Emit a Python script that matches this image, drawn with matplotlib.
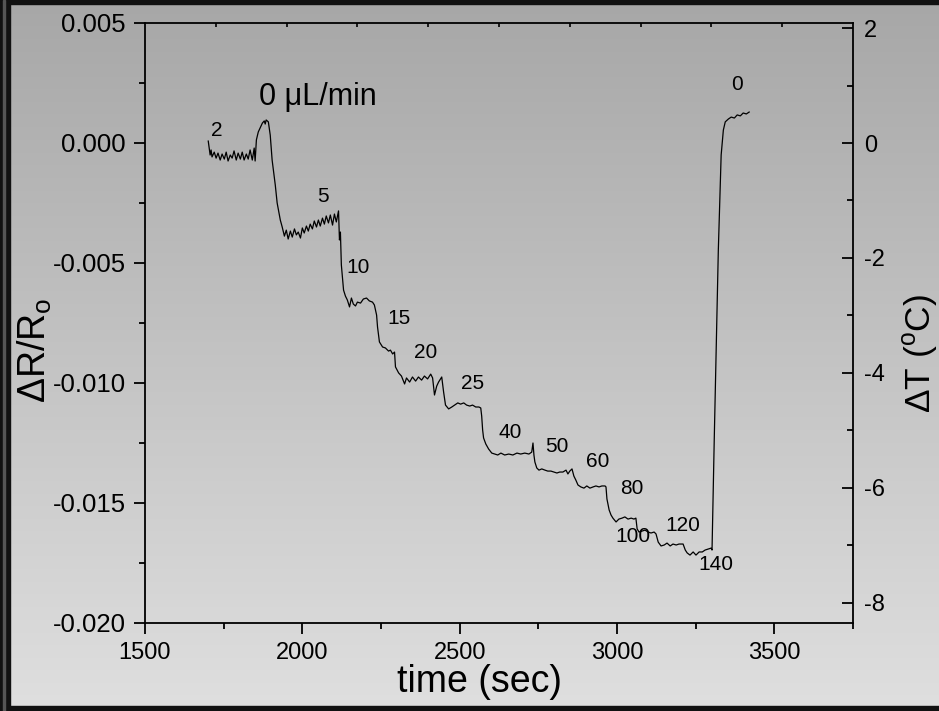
import numpy as np
import matplotlib
matplotlib.use("Agg")
import matplotlib.pyplot as plt
from matplotlib.patches import Rectangle

plt.rcParams['font.family'] = ['Liberation Sans', 'DejaVu Sans']
plt.rcParams['mathtext.fontset'] = 'custom'
plt.rcParams['mathtext.rm'] = 'Liberation Sans'
plt.rcParams['mathtext.it'] = 'Liberation Sans'
plt.rcParams['axes.unicode_minus'] = False

# ---------------- data ----------------
time_s = [1701, 1704, 1707, 1710, 1713, 1720, 1726, 1732, 1739, 1745, 1752, 1758, 1764, 1771,
          1777, 1783, 1790, 1796, 1803, 1809, 1815, 1822, 1828, 1834, 1841, 1847, 1850, 1854,
          1860, 1866, 1873, 1879, 1882, 1885, 1892, 1898, 1904, 1914, 1920, 1930, 1936, 1943,
          1949, 1955, 1962, 1968, 1975, 1981, 1987, 1994, 2000, 2006, 2013, 2019, 2025, 2032,
          2038, 2045, 2051, 2057, 2064, 2070, 2076, 2083, 2089, 2096, 2102, 2108, 2115, 2118,
          2121, 2124, 2131, 2137, 2143, 2150, 2156, 2162, 2169, 2175, 2185, 2194, 2204, 2213,
          2223, 2229, 2236, 2239, 2245, 2255, 2264, 2274, 2280, 2287, 2293, 2296, 2306, 2315,
          2325, 2331, 2341, 2350, 2360, 2369, 2379, 2388, 2398, 2408, 2414, 2420, 2427, 2433,
          2443, 2449, 2455, 2465, 2475, 2484, 2494, 2503, 2513, 2522, 2532, 2541, 2551, 2561,
          2567, 2570, 2573, 2576, 2583, 2592, 2602, 2611, 2621, 2631, 2643, 2656, 2669, 2682,
          2694, 2707, 2720, 2729, 2733, 2736, 2739, 2745, 2752, 2761, 2771, 2780, 2790, 2799,
          2809, 2818, 2828, 2838, 2844, 2850, 2857, 2863, 2869, 2876, 2885, 2895, 2904, 2914,
          2924, 2933, 2943, 2952, 2962, 2965, 2968, 2975, 2981, 2987, 2997, 3006, 3016, 3025,
          3035, 3045, 3054, 3060, 3064, 3070, 3080, 3089, 3099, 3108, 3118, 3124, 3131, 3140,
          3150, 3159, 3169, 3178, 3188, 3197, 3210, 3217, 3223, 3232, 3242, 3251, 3261, 3271,
          3280, 3290, 3299, 3302, 3309, 3322, 3331, 3338, 3344, 3354, 3363, 3373, 3382, 3392,
          3401, 3411, 3420]

dR_R0 = [0.00008, -0.00021, -0.00050, -0.00029, -0.00058, -0.00038, -0.00063, -0.00042,
         -0.00071, -0.00046, -0.00067, -0.00038, -0.00075, -0.00050, -0.00063, -0.00033,
         -0.00071, -0.00042, -0.00067, -0.00038, -0.00071, -0.00046, -0.00067, -0.00029,
         -0.00071, -0.00021, -0.00075, 0.00013, 0.00046, 0.00063, 0.00083, 0.00092, 0.00079,
         0.00096, 0.00088, 0.00033, -0.00071, -0.00175, -0.00250, -0.00321, -0.00350,
         -0.00388, -0.00363, -0.00400, -0.00367, -0.00392, -0.00358, -0.00383, -0.00371,
         -0.00396, -0.00354, -0.00375, -0.00346, -0.00367, -0.00338, -0.00358, -0.00325,
         -0.00350, -0.00321, -0.00346, -0.00313, -0.00338, -0.00304, -0.00333, -0.00300,
         -0.00342, -0.00296, -0.00329, -0.00283, -0.00404, -0.00371, -0.00508, -0.00613,
         -0.00638, -0.00654, -0.00683, -0.00646, -0.00671, -0.00679, -0.00663, -0.00667,
         -0.00650, -0.00646, -0.00658, -0.00663, -0.00675, -0.00717, -0.00767, -0.00829,
         -0.00850, -0.00854, -0.00867, -0.00863, -0.00879, -0.00871, -0.00933, -0.00958,
         -0.00971, -0.01004, -0.00979, -0.00996, -0.00975, -0.00992, -0.00975, -0.00988,
         -0.00971, -0.00983, -0.00963, -0.00979, -0.01050, -0.01013, -0.00996, -0.00975,
         -0.01038, -0.01092, -0.01108, -0.01100, -0.01092, -0.01083, -0.01088, -0.01083,
         -0.01092, -0.01096, -0.01092, -0.01100, -0.01100, -0.01104, -0.01138, -0.01196,
         -0.01229, -0.01254, -0.01275, -0.01292, -0.01296, -0.01300, -0.01292, -0.01300,
         -0.01296, -0.01300, -0.01292, -0.01296, -0.01292, -0.01296, -0.01288, -0.01250,
         -0.01300, -0.01329, -0.01354, -0.01363, -0.01358, -0.01363, -0.01367, -0.01367,
         -0.01371, -0.01375, -0.01371, -0.01371, -0.01363, -0.01379, -0.01367, -0.01358,
         -0.01388, -0.01404, -0.01425, -0.01433, -0.01438, -0.01429, -0.01438, -0.01433,
         -0.01429, -0.01433, -0.01429, -0.01429, -0.01433, -0.01483, -0.01529, -0.01550,
         -0.01563, -0.01579, -0.01567, -0.01563, -0.01558, -0.01567, -0.01563, -0.01567,
         -0.01563, -0.01608, -0.01621, -0.01617, -0.01613, -0.01621, -0.01625, -0.01621,
         -0.01629, -0.01663, -0.01679, -0.01675, -0.01667, -0.01679, -0.01671, -0.01675,
         -0.01671, -0.01671, -0.01696, -0.01708, -0.01717, -0.01704, -0.01717, -0.01704,
         -0.01704, -0.01696, -0.01692, -0.01688, -0.01696, -0.01238, -0.00446, -0.00050,
         0.00054, 0.00088, 0.00100, 0.00108, 0.00104, 0.00117, 0.00113, 0.00125, 0.00121,
         0.00129]

flow_labels = ["2", "5", "10", "15", "20", "25", "40", "50", "60", "80", "100", "120", "140", "0"]
label_t = [1729, 2067, 2178, 2306, 2392, 2541, 2659, 2809, 2940, 3048, 3051, 3210, 3315, 3382]
label_v = [0.00054, -0.00221, -0.00517, -0.00733, -0.00871, -0.01004, -0.01208, -0.01263,
           -0.01329, -0.01438, -0.01638, -0.01592, -0.01758, 0.00242]

x_ticks = [1500, 2000, 2500, 3000, 3500]
y_ticks = [0.005, 0.000, -0.005, -0.010, -0.015, -0.020]
y_tick_labels = ["0.005", "0.000", "-0.005", "-0.010", "-0.015", "-0.020"]
t_ticks = [2, 0, -2, -4, -6, -8]

# ---------------- figure ----------------
W, H = 939, 711
fig = plt.figure(figsize=(W / 100, H / 100), dpi=100)

# gradient background
bg = fig.add_axes([0, 0, 1, 1], zorder=-10)
grad = np.linspace(0, 1, 256).reshape(-1, 1)
top_c = np.array([0.655, 0.655, 0.655])
bot_c = np.array([0.875, 0.875, 0.875])
img = top_c[None, None, :] * (1 - grad[:, :, None]) + bot_c[None, None, :] * grad[:, :, None]
bg.imshow(img, aspect='auto', extent=[0, 1, 0, 1], origin='upper')
bg.set_xlim(0, 1); bg.set_ylim(0, 1)
bg.axis('off')
# dark frame
bg.add_patch(Rectangle((0, 0), 10 / W, 1, color='#111111', zorder=5))
bg.add_patch(Rectangle((0, 1 - 4 / H), 1, 4 / H, color='#111111', zorder=5))
bg.add_patch(Rectangle((0, 0), 1, 5 / H, color='#111111', zorder=5))
bg.add_patch(Rectangle((3 / W, 0), 1.5 / W, 1, color='#555555', zorder=6))

left, right, top, bottom = 145 / W, 853 / W, 1 - 23 / H, 1 - 623 / H
ax = fig.add_axes([left, bottom, right - left, top - bottom])
ax.patch.set_alpha(0)

ax.plot(time_s, dR_R0, color='black', lw=0.9)

ax.set_xlim(1500, 3750)
ax.set_ylim(-0.020, 0.005)
ax.set_xticks(x_ticks)
ax.set_xticks(np.arange(1750, 3751, 500), minor=True)
ax.set_yticks(y_ticks)
ax.set_yticklabels(y_tick_labels)
ax.set_yticks(np.arange(-0.0175, 0.005, 0.005), minor=True)

for s in ax.spines.values():
    s.set_linewidth(1.3)
ax.spines['right'].set_visible(False)

ax.tick_params(axis='both', which='major', direction='out', length=8, width=1.3, pad=6)
ax.tick_params(axis='x', which='major', labelsize=17)
ax.tick_params(axis='y', which='major', labelsize=18.5)
ax.tick_params(axis='both', which='minor', direction='out', length=4, width=1.3)
ax.tick_params(axis='x', which='both', top=False)

ax.set_xlabel("time (sec)", fontsize=27)
ax.xaxis.set_label_coords(0.472, -0.068)
ax.set_ylabel(r"$\Delta$R/R$_\mathrm{o}$", fontsize=27)
ax.yaxis.set_label_coords(-0.128, 0.455)

# top small ticks
axt = ax.twiny()
axt.set_xlim(0, 1)
axt.set_xticks(np.arange(0.1, 0.95, 0.1))
axt.tick_params(axis='x', direction='in', length=3, width=1.2, labeltop=False)
for s in axt.spines.values():
    s.set_visible(False)

# right axis
axr = ax.twinx()
axr.set_ylim(-8.348, 2.087)
axr.set_yticks(t_ticks)
axr.set_yticks([1, -1, -3, -5, -7], minor=True)
for s in axr.spines.values():
    s.set_visible(False)
axr.spines['right'].set_visible(True)
axr.spines['right'].set_linewidth(1.3)
axr.tick_params(axis='y', which='major', direction='in', length=8, width=1.3,
                labelsize=17, pad=8)
axr.tick_params(axis='y', which='minor', direction='in', length=4, width=1.3)
axr.set_ylabel(r"$\Delta$T ($^\mathrm{o}$C)", fontsize=25.5, rotation=90)
axr.yaxis.set_label_coords(1.068, 0.45)

# annotations
for lab, t, v in zip(flow_labels, label_t, label_v):
    ax.text(t, v, lab, fontsize=15, ha='center', va='center')
ax.text(2048, 0.0019, "0 \u03bcL/min", fontsize=22, ha='center', va='center')

fig.savefig("out.png", dpi=100)
